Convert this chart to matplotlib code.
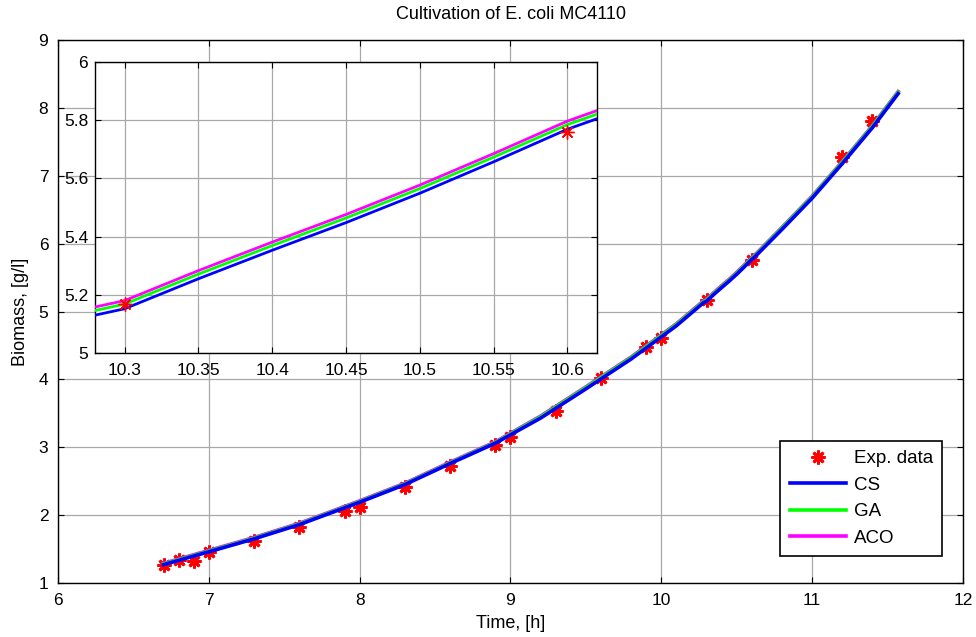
import matplotlib
matplotlib.use("Agg")
import matplotlib.pyplot as plt

# Experimental data
t_exp = [6.7, 6.8, 6.9, 7.0, 7.3, 7.6, 7.9, 8.0, 8.3, 8.6, 8.9, 9.0, 9.3, 9.6,
         9.9, 10.0, 10.3, 10.6, 11.2, 11.4]
x_exp = [1.27, 1.34, 1.32, 1.46, 1.62, 1.83, 2.06, 2.12, 2.41, 2.73, 3.03, 3.15,
         3.54, 4.02, 4.48, 4.61, 5.17, 5.76, 7.28, 7.81]

# Model curves
t_model = [6.7, 7.0, 7.3, 7.6, 8.0, 8.3, 8.6, 8.9, 9.2, 9.5, 9.8, 10.1,
           10.28, 10.3, 10.35, 10.4, 10.45, 10.5, 10.55, 10.6, 10.62,
           10.8, 11.0, 11.2, 11.4, 11.57]
aco = [1.29, 1.48, 1.67, 1.88, 2.21, 2.47, 2.78, 3.08, 3.46, 3.89, 4.33, 4.82,
       5.158, 5.180, 5.283, 5.381, 5.476, 5.577, 5.685, 5.797, 5.833,
       6.24, 6.70, 7.21, 7.74, 8.24]
ga = [1.28, 1.47, 1.66, 1.87, 2.20, 2.46, 2.77, 3.07, 3.45, 3.88, 4.32, 4.81,
      5.146, 5.168, 5.271, 5.369, 5.464, 5.565, 5.673, 5.785, 5.821,
      6.23, 6.69, 7.20, 7.73, 8.23]
cs = [1.27, 1.46, 1.65, 1.86, 2.19, 2.45, 2.76, 3.06, 3.43, 3.86, 4.30, 4.79,
      5.130, 5.152, 5.255, 5.353, 5.448, 5.549, 5.657, 5.769, 5.805,
      6.21, 6.67, 7.18, 7.71, 8.21]

main_xticks = [6, 7, 8, 9, 10, 11, 12]
main_yticks = [1, 2, 3, 4, 5, 6, 7, 8, 9]
inset_xticks = [10.3, 10.35, 10.4, 10.45, 10.5, 10.55, 10.6]
inset_xlabels = ["10.3", "10.35", "10.4", "10.45", "10.5", "10.55", "10.6"]
inset_yticks = [5, 5.2, 5.4, 5.6, 5.8, 6]
inset_ylabels = ["5", "5.2", "5.4", "5.6", "5.8", "6"]

plt.rcParams['font.family'] = ['Liberation Sans', 'DejaVu Sans']

W, H = 976, 637
fig = plt.figure(figsize=(W / 100, H / 100), dpi=100)

ax = fig.add_axes([58 / W, 1 - 583 / H, (963 - 58) / W, (583 - 40) / H])

grid_kw = dict(color='#a8a8a8', linewidth=0.9)

def style(a):
    a.tick_params(direction='in', top=True, right=True, length=4, width=0.8,
                  labelsize=12.5, colors='black')
    for s in a.spines.values():
        s.set_linewidth(1.0)
        s.set_color('black')
    a.grid(True, **grid_kw)
    a.set_axisbelow(True)

marker = (8, 2, 0)
ax.plot(t_exp, x_exp, linestyle='none', marker=marker, color='red',
        markersize=10, markeredgewidth=2.0, zorder=2, label='Exp. data')
ax.plot(t_model, aco, color='#ff00ff', linewidth=2.6, zorder=3, label='ACO')
ax.plot(t_model, ga, color='#00ff00', linewidth=2.6, zorder=4, label='GA')
ax.plot(t_model, cs, color='#0000ff', linewidth=2.6, zorder=5, label='CS')

ax.set_xlim(6, 12)
ax.set_ylim(1, 9)
ax.set_xticks(main_xticks)
ax.set_yticks(main_yticks)
style(ax)
ax.tick_params(axis='x', pad=7)
ax.tick_params(axis='y', pad=7)
ax.set_title('Cultivation of E. coli MC4110', fontsize=13, pad=15)
ax.set_xlabel('Time, [h]', fontsize=13, labelpad=5)
ax.set_ylabel('Biomass, [g/l]', fontsize=13, labelpad=7)

handles, labels = ax.get_legend_handles_labels()
order = ['Exp. data', 'CS', 'GA', 'ACO']
hmap = dict(zip(labels, handles))
leg = ax.legend([hmap[k] for k in order], order, loc='lower right',
                bbox_to_anchor=(0.977, 0.0497), borderaxespad=0,
                fontsize=13.5, fancybox=False, framealpha=1, edgecolor='black',
                handlelength=3.0, labelspacing=0.5, handletextpad=0.4,
                borderpad=0.5, markerfirst=True)
leg.get_frame().set_linewidth(1.2)
leg.set_zorder(10)

# Inset
axi = fig.add_axes([95 / W, 1 - 353 / H, (597 - 95) / W, (353 - 62) / H])
axi.set_facecolor('white')
axi.plot(t_exp, x_exp, linestyle='none', marker=marker, color='red',
         markersize=10, markeredgewidth=1.0, zorder=6)
axi.plot(t_model, aco, color='#ff00ff', linewidth=2.0, zorder=3)
axi.plot(t_model, ga, color='#00ff00', linewidth=2.0, zorder=4)
axi.plot(t_model, cs, color='#0000ff', linewidth=2.0, zorder=5)
axi.set_xlim(10.28, 10.62)
axi.set_ylim(5, 6)
axi.set_xticks(inset_xticks)
axi.set_xticklabels(inset_xlabels)
axi.set_yticks(inset_yticks)
axi.set_yticklabels(inset_ylabels)
style(axi)
axi.tick_params(axis='x', pad=7)
axi.tick_params(axis='y', pad=5)

fig.savefig('out.png', dpi=100)
